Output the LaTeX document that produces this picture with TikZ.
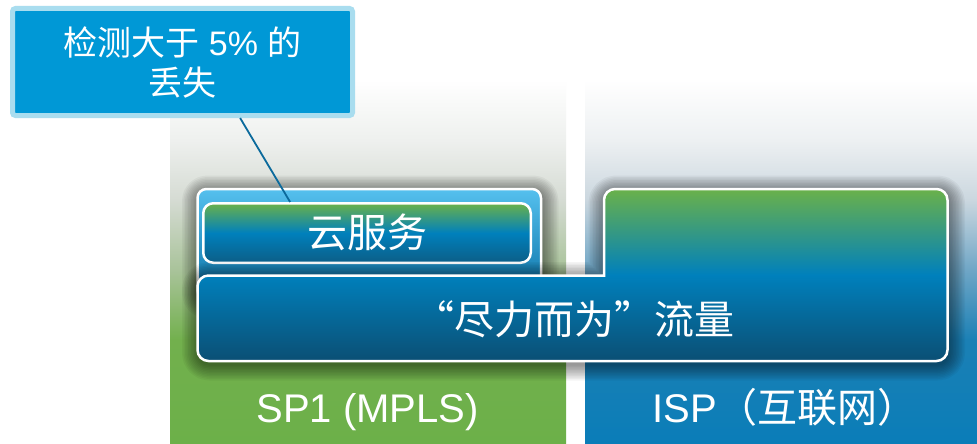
\documentclass[tikz,border=0pt]{standalone}
\usepackage{fontspec}
\setmainfont{Liberation Sans}
\newfontfamily\cjk{Noto Sans CJK SC}
\usetikzlibrary{calc}
\definecolor{lcA}{HTML}{6CB049}
\definecolor{lcB}{HTML}{72B04D}
\definecolor{lcC}{HTML}{A9C39A}
\definecolor{lcD}{HTML}{D5DBD3}
\definecolor{lcE}{HTML}{EEF0EE}
\definecolor{rcA}{HTML}{0A7DB8}
\definecolor{rcB}{HTML}{1B80B5}
\definecolor{rcC}{HTML}{6FA6C6}
\definecolor{rcD}{HTML}{CBD7DF}
\definecolor{rcE}{HTML}{EDF0F2}
\definecolor{callfill}{HTML}{0098D6}
\definecolor{callrim}{HTML}{A9DDEF}
\definecolor{gtop}{HTML}{6AB14A}
\definecolor{gmid}{HTML}{0080BC}
\definecolor{gbot}{HTML}{0B4F74}
\definecolor{ctop}{HTML}{0C5E87}
\definecolor{ltop}{HTML}{55C0EE}
\definecolor{lbot}{HTML}{0870A5}
\definecolor{linkc}{HTML}{0B6A9C}
\pgfdeclareverticalshading{leftcol}{100bp}{color(0bp)=(lcA); color(25bp)=(lcA); color(36.7bp)=(lcB); color(44.6bp)=(lcC); color(52.5bp)=(lcD); color(59.2bp)=(lcE); color(66bp)=(white); color(100bp)=(white)}
\pgfdeclareverticalshading{rightcol}{100bp}{color(0bp)=(rcA); color(25bp)=(rcA); color(36.7bp)=(rcB); color(44.6bp)=(rcC); color(52.5bp)=(rcD); color(59.2bp)=(rcE); color(66bp)=(white); color(100bp)=(white)}
\begin{document}
\begin{tikzpicture}[x=1pt,y=-1pt,
  bigtext/.style={text=white, font=\fontsize{40}{48}\selectfont, inner sep=0pt},
  shadowring/.style={draw=black, draw opacity=0.045, line join=round, xshift=1pt, yshift=-3pt},
  callout/.style={draw=callrim, fill=callfill, line width=5pt, rounded corners=3pt, minimum width=340pt, minimum height=107pt, inner sep=0pt, text=white, align=center, font=\fontsize{34}{40}\selectfont},
  holder/.style={draw=white, line width=2.5pt, rounded corners=9pt, top color=ltop, bottom color=lbot, minimum width=343.5pt, minimum height=110pt, inner sep=0pt},
  cloudbox/.style={draw=white, line width=2.5pt, rounded corners=10pt, top color=gtop, bottom color=ctop, middle color=gmid, minimum width=327.5pt, minimum height=59.5pt, inner sep=0pt},
  mainshape/.style={draw=white, line width=2.5pt, top color=gtop, bottom color=gbot, middle color=gmid},
  mainp/.style={insert path={(570,361) [rounded corners=11pt] -- (197.5,361) -- (197.5,275.5) [sharp corners] -- (604,275.5) [rounded corners=11pt] -- (604,189) -- (947.5,189) -- (947.5,361) -- cycle}},
  holderp/.style={insert path={[rounded corners=9pt] (197.5,189) rectangle (541,299)}},
  link/.style={draw=linkc, line width=1.8pt}
]
\useasboundingbox (0,0) rectangle (977,444);
\fill[white] (0,0) rectangle (977,444);
\shade[shading=leftcol] (170,0) rectangle (566,444);
\shade[shading=rightcol] (585,0) rectangle (977,444);

\node[callout] (callout) at (182.5,62) {{\cjk 检测大于} 5\% {\cjk 的}\\{\cjk 丢失}};

% soft shadow of the container
\foreach \w in {3,6,...,33} {\path[shadowring, line width=\w pt, holderp];}
\node[holder] (holder) at (369.25,244) {};
\node[cloudbox] (cloud) at (367,233) {};
\node[bigtext, anchor=base] (cloudtxt) at (367,247) {\cjk 云服务};

% soft shadow of the main shape
\foreach \w in {3,6,...,33} {\path[shadowring, line width=\w pt, mainp];}
\path[mainshape, mainp];

\node[bigtext, anchor=base] (best) at (574,334) {\cjk “尽力而为”流量};
\node[bigtext, anchor=base] (sp1) at (367.5,422) {SP1 (MPLS)};
\node[bigtext, anchor=base] (isp) at (785,422) {ISP{\cjk （互联网）}};

\draw[link] ($(callout.south west)!0.667!(callout.south east)$) -- ($(cloud.north west)!0.267!(cloud.north east)$);
\end{tikzpicture}
\end{document}
